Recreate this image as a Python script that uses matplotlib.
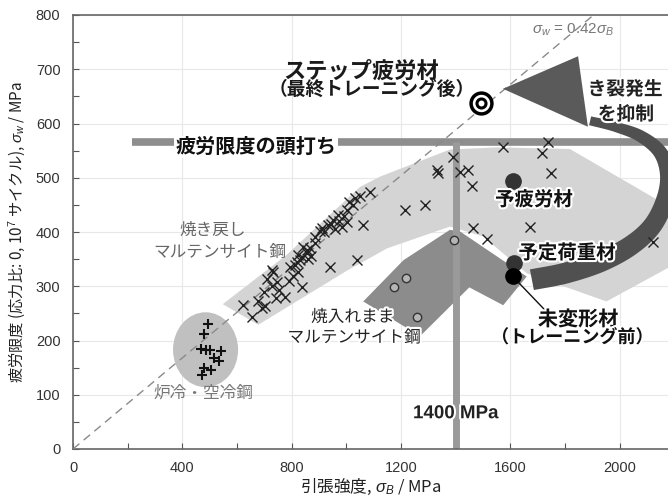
import numpy as np
import matplotlib
matplotlib.use("Agg")
import matplotlib.pyplot as plt
from matplotlib.patches import Polygon, Ellipse
from matplotlib.ticker import MultipleLocator
import matplotlib.patheffects as pe

plt.rcParams['font.family'] = ['Liberation Sans', 'Noto Sans CJK JP']
plt.rcParams['mathtext.fontset'] = 'custom'
plt.rcParams['mathtext.rm'] = 'Liberation Sans'
plt.rcParams['mathtext.it'] = 'Liberation Sans:italic'
plt.rcParams['mathtext.bf'] = 'Liberation Sans:bold'
JP = 'Noto Sans CJK JP'

# ---- data: tensile strength (MPa) vs fatigue limit (MPa) ----
tempered_ts = [623, 656, 678, 702, 709, 731, 727, 755, 743, 776, 806, 824, 837, 818,
               837, 855, 867, 885, 940, 812, 843, 855, 824, 831, 794, 745, 727, 885,
               904, 910, 934, 953, 971, 983, 1001, 1001, 1026, 1032, 1062, 1087, 1038,
               920, 945, 960, 975, 990, 1010, 1050, 870, 860, 790, 700, 690,
               1215, 1288, 1331, 1337, 1392, 1416, 1446, 1459, 1465, 1513, 1572, 1739,
               1715, 1748, 1672, 2121]
tempered_fl = [265, 243, 272, 264, 313, 327, 300, 293, 278, 281, 318, 327, 299, 345,
               354, 361, 370, 380, 336, 339, 373, 367, 358, 348, 336, 308, 330, 391,
               401, 407, 413, 422, 431, 410, 419, 441, 450, 462, 413, 474, 348,
               400, 415, 405, 420, 430, 455, 466, 355, 350, 310, 290, 260,
               441, 450, 514, 508, 539, 510, 514, 484, 407, 388, 556, 565,
               546, 508, 409, 382]

cooled_ts = [495, 478, 470, 488, 503, 543, 515, 533, 478, 505, 472]
cooled_fl = [230, 212, 185, 183, 182, 180, 168, 163, 150, 146, 137]

quenched_ts = [1395, 1217, 1175, 1257]
quenched_fl = [386, 316, 299, 243]

prefatigued = (1611, 494)
preloaded = (1615, 342)
undeformed = (1609, 318)
step_fatigued = (1494, 638)

ratio = 0.42          # sigma_w / sigma_B
cap_level = 565       # fatigue-limit plateau (MPa)
ts_threshold = 1400   # tensile strength at plateau onset (MPa)

# ---- figure ----
fig = plt.figure(figsize=(6.68, 4.97), dpi=100)
ax = fig.add_axes([73 / 668, 48 / 497, 595 / 668, 434 / 497])
ax.set_xlim(0, 2177)
ax.set_ylim(0, 800)

ax.xaxis.set_major_locator(MultipleLocator(400))
ax.xaxis.set_minor_locator(MultipleLocator(200))
ax.yaxis.set_major_locator(MultipleLocator(100))
ax.yaxis.set_minor_locator(MultipleLocator(50))
ax.tick_params(which='both', direction='in', colors='#555555', width=0.8,
               labelcolor='#333333', labelsize=10.5, pad=9, length=4)
ax.tick_params(top=False, right=False)
ax.grid(True, which='major', color='#e8e8e8', lw=0.8)
ax.set_axisbelow(True)
for s in ['left', 'bottom', 'top']:
    ax.spines[s].set_color('#666666')
    ax.spines[s].set_linewidth(1.2)
ax.spines['right'].set_visible(False)

ax.set_xlabel(r'引張強度, $\sigma_B$ / MPa', fontsize=12, color='#222222',
              labelpad=1, family=JP)
ax.set_ylabel(r'疲労限度 (応力比: 0, 10$^7$ サイクル), $\sigma_w$ / MPa',
              fontsize=11, color='#222222', family=JP)
ax.yaxis.set_label_coords(-0.077, 0.5)

# ---- shaded regions ----
light_region = [(548, 267), (782, 358), (1050, 483), (1123, 502), (1379, 552),
                (1550, 556), (1818, 553), (2129, 462), (2185, 445), (2185, 336),
                (1952, 272), (1660, 324), (1500, 392), (1379, 410), (1150, 370),
                (1000, 328), (678, 229)]
ax.add_patch(Polygon(light_region, closed=True, fc='#d4d4d4', ec='none', zorder=1))

dark_region = [(1062, 272), (1209, 348), (1379, 404), (1416, 401), (1660, 318),
               (1574, 265), (1450, 298), (1270, 208)]
ax.add_patch(Polygon(dark_region, closed=True, fc='#8c8c8c', ec='none', zorder=1.5))

ax.add_patch(Ellipse((485, 183), 238, 138, fc='#c0c0c0', ec='none', zorder=1.5))

# plateau bar and threshold bar
ax.plot([216, 2300], [cap_level, cap_level], color='#8e8e8e', lw=5.5,
        solid_capstyle='butt', zorder=2.5)
ax.plot([ts_threshold, ts_threshold], [0, cap_level], color='#9a9a9a', lw=5,
        solid_capstyle='butt', zorder=2.5)

# proportional line
ax.plot([0, 900 / ratio], [0, 900], color='#8a8a8a', lw=1.0,
        ls=(0, (6, 4)), zorder=3)


# ---- curved arrow ----
def catmull_rom(p, n=12):
    p = np.asarray(p, float)
    p = np.vstack([p[0] * 2 - p[1], p, p[-1] * 2 - p[-2]])
    out = []
    for i in range(1, len(p) - 2):
        p0, p1, p2, p3 = p[i - 1], p[i], p[i + 1], p[i + 2]
        for t in np.linspace(0, 1, n, endpoint=False):
            t2, t3 = t * t, t * t * t
            out.append(0.5 * ((2 * p1) + (-p0 + p2) * t +
                              (2 * p0 - 5 * p1 + 4 * p2 - p3) * t2 +
                              (-p0 + 3 * p1 - 3 * p2 + p3) * t3))
    out.append(p[-2])
    return np.array(out)


def tapered_band(xs, ys, widths_px, **kw):
    pts = ax.transData.transform(np.column_stack([xs, ys]))
    w_in = np.asarray(widths_px, float)
    idx = np.linspace(0, 1, len(pts))
    curve = catmull_rom(pts)
    w = np.interp(np.linspace(0, 1, len(curve)), idx, w_in)
    d = np.gradient(curve, axis=0)
    nrm = np.column_stack([-d[:, 1], d[:, 0]])
    nrm /= np.linalg.norm(nrm, axis=1)[:, None]
    left = curve + nrm * (w[:, None] / 2)
    right = curve - nrm * (w[:, None] / 2)
    poly = ax.transData.inverted().transform(np.vstack([left, right[::-1]]))
    ax.add_patch(Polygon(poly, closed=True, **kw))


arc_x = [1679, 1800, 1928, 2038, 2119, 2166, 2177, 2148, 2075, 1983, 1892]
arc_y = [312, 324, 345, 374, 411, 459, 505, 547, 577, 594, 605]
arc_w = [21, 21, 21, 20, 19, 18, 16, 14, 12, 10, 9]
tapered_band(arc_x, arc_y, arc_w, fc='#505050', ec='none', zorder=4)

ax.add_patch(Polygon([(1573, 664), (1848, 724), (1884, 594)], closed=True,
                     fc='#5a5a5a', ec='none', zorder=4))

# ---- markers ----
ax.plot(tempered_ts, tempered_fl, ls='none', marker='x', ms=7, mew=1.0,
        color='#222222', zorder=5)
ax.plot(cooled_ts, cooled_fl, ls='none', marker='+', ms=7, mew=1.5,
        color='#111111', zorder=5)
ax.plot(quenched_ts, quenched_fl, ls='none', marker='o', ms=6, mew=1.0,
        mfc='#b5b5b5', mec='#333333', zorder=5)
ax.plot(*prefatigued, marker='o', ms=11, color='#333333', zorder=5)
ax.plot(*preloaded, marker='o', ms=11, color='#333333', zorder=5)
ax.plot(*undeformed, marker='o', ms=11, color='#000000', zorder=5.1)
ax.plot(*step_fatigued, marker='o', ms=15, mfc='white', mec='black', mew=2.5, zorder=5)
ax.plot(*step_fatigued, marker='o', ms=6.5, mfc='white', mec='black', mew=2.2, zorder=5.1)

# leader from undeformed point to its label
ax.plot([undeformed[0], 1727], [undeformed[1], 256], color='#111111', lw=1.0, zorder=5)

# ---- labels ----
halo = [pe.withStroke(linewidth=3, foreground='white')]

ax.text(1054, 695, 'ステップ疲労材', ha='center', va='center', fontsize=16,
        fontweight='bold', color='#1a1a1a', zorder=6)
ax.text(1094, 662, '（最終トレーニング後）', ha='center', va='center', fontsize=13.5,
        fontweight='bold', color='#1a1a1a', zorder=6)

ax.text(670, 557, '疲労限度の頭打ち', ha='center', va='center', fontsize=14.5,
        fontweight='bold', color='#111111', zorder=6,
        bbox=dict(fc='white', ec='none', pad=1))

ax.text(512, 404, '焼き戻し', ha='center', va='center', fontsize=12,
        color='#666666', zorder=6)
ax.text(538, 363, 'マルテンサイト鋼', ha='center', va='center', fontsize=12,
        color='#666666', zorder=6)
ax.text(476, 103, '炉冷・空冷鋼', ha='center', va='center', fontsize=12,
        color='#777777', zorder=6)

ax.text(1023, 243, '焼入れまま', ha='center', va='center', fontsize=12,
        color='#222222', zorder=6, path_effects=halo)
ax.text(1028, 205, 'マルテンサイト鋼', ha='center', va='center', fontsize=12,
        color='#222222', zorder=6, path_effects=halo)

ax.text(1687, 459, '予疲労材', ha='center', va='center', fontsize=14,
        fontweight='bold', color='#111111', zorder=6, path_effects=halo)
ax.text(1808, 361, '予定荷重材', ha='center', va='center', fontsize=14,
        fontweight='bold', color='#111111', zorder=6, path_effects=halo)
ax.text(2020, 662, 'き裂発生', ha='center', va='center', fontsize=13.5,
        fontweight='bold', color='#222222', zorder=3.9, path_effects=halo)
ax.text(2023, 616, 'を抑制', ha='center', va='center', fontsize=13.5,
        fontweight='bold', color='#222222', zorder=6, path_effects=halo)

ax.text(1848, 238, '未変形材', ha='center', va='center', fontsize=14.5,
        fontweight='bold', color='#111111', zorder=6, path_effects=halo)
ax.text(1826, 205, '（トレーニング前）', ha='center', va='center', fontsize=13,
        fontweight='bold', color='#111111', zorder=6, path_effects=halo)

ax.text(ts_threshold, 65, f'{ts_threshold} MPa', ha='center', va='center',
        fontsize=13.5, fontweight='bold', color='#222222', zorder=6,
        path_effects=halo)

ax.text(1830, 772, r'$\sigma_w$ = 0.42$\sigma_B$', ha='center', va='center',
        fontsize=11, color='#777777', zorder=6)

fig.savefig('out.png', dpi=100)
